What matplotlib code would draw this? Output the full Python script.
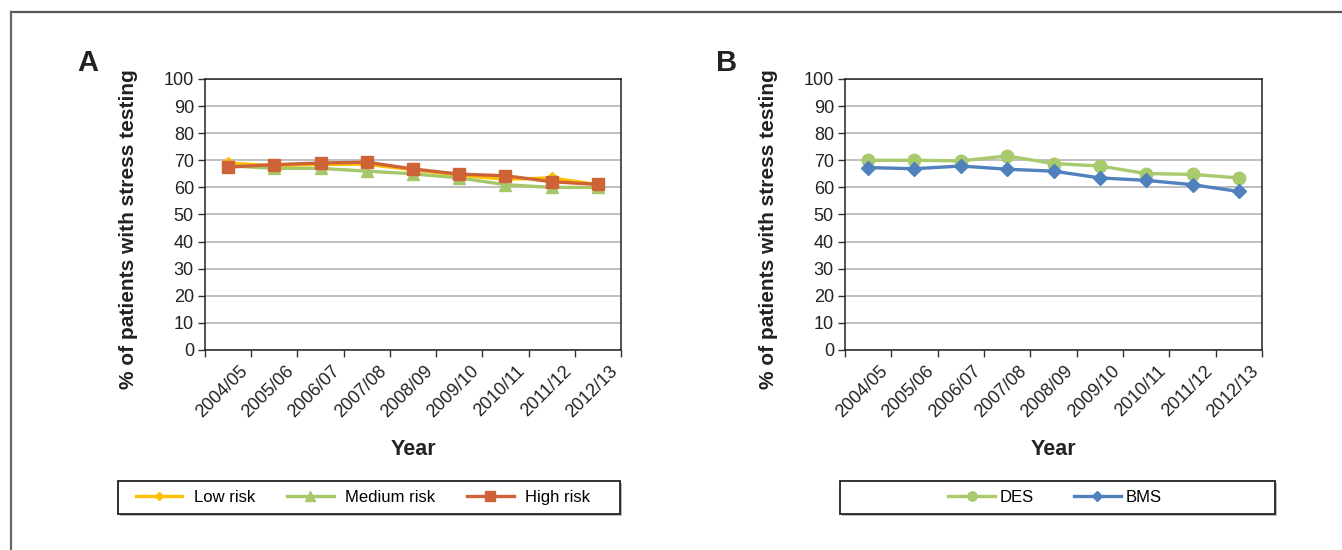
import numpy as np
import matplotlib
matplotlib.use("Agg")
import matplotlib.pyplot as plt
from matplotlib.lines import Line2D
from matplotlib.patches import Rectangle

years = ["2004/05", "2005/06", "2006/07", "2007/08", "2008/09",
         "2009/10", "2010/11", "2011/12", "2012/13"]

# panel A: by risk group
low_risk = [69.0, 68.0, 68.5, 68.5, 66.5, 64.5, 63.0, 63.5, 61.0]
medium_risk = [68.0, 67.0, 67.0, 66.0, 65.0, 63.5, 61.0, 60.0, 60.0]
high_risk = [67.5, 68.4, 69.0, 69.3, 66.8, 64.9, 64.3, 62.1, 61.1]

# panel B: by stent type
des = [70.0, 70.0, 69.8, 71.6, 68.8, 67.9, 65.1, 64.8, 63.5]
bms = [67.3, 66.9, 67.9, 66.7, 66.0, 63.5, 62.6, 61.0, 58.5]

plt.rcParams["font.family"] = ["Liberation Sans", "DejaVu Sans"]

fig = plt.figure(figsize=(13.42, 5.5), dpi=100)
W, H = 1342.0, 550.0

def px_box(x0, y0, x1, y1):
    return [x0 / W, 1 - y1 / H, (x1 - x0) / W, (y1 - y0) / H]

x = np.arange(len(years))


def style_axes(ax):
    ax.set_xlim(-0.5, len(years) - 0.5)
    ax.set_ylim(0, 100)
    ax.set_yticks(np.arange(0, 101, 10))
    ax.tick_params(axis="y", labelsize=13, length=5, width=1, color="#333333",
                   colors="#222222", pad=3)
    # year labels hang off the category boundaries, Excel style
    ax.set_xticks(np.arange(-0.5, len(years)))
    ax.set_xticklabels([""] + years, rotation=45, ha="right", va="bottom",
                       rotation_mode="anchor", fontsize=13, color="#222222")
    ax.tick_params(axis="x", length=5, width=1, color="#333333", pad=13)
    ax.grid(axis="y", color="#b4b4b4", lw=1.2)
    ax.set_axisbelow(True)
    for s in ax.spines.values():
        s.set_color("#222222")
        s.set_linewidth(1.1)
    ax.set_ylabel("% of patients with stress testing", fontsize=15,
                  fontweight="bold", color="#222222")
    ax.yaxis.set_label_coords(-0.161, 0.446)
    ax.set_xlabel("Year", fontsize=15.5, fontweight="bold", color="#222222",
                  labelpad=13)


axA = fig.add_axes(px_box(205, 79, 621, 350))
axA.plot(x, low_risk, color="#FFC000", lw=2.4, marker="D", ms=6, label="Low risk")
axA.plot(x, medium_risk, color="#A6C76A", lw=2.4, marker="^", ms=9, label="Medium risk")
axA.plot(x, high_risk, color="#CF6338", lw=2.4, marker="s", ms=9, label="High risk")
style_axes(axA)

axB = fig.add_axes(px_box(845, 79, 1262, 350))
axB.plot(x, des, color="#A8C96C", lw=2.4, marker="o", ms=9, label="DES")
axB.plot(x, bms, color="#4F81BD", lw=2.4, marker="D", ms=7, label="BMS")
style_axes(axB)

fig.text(88 / W, 1 - 63 / H, "A", fontsize=21, fontweight="bold", ha="center",
         va="center", color="#222222")
fig.text(727 / W, 1 - 63 / H, "B", fontsize=21, fontweight="bold", ha="center",
         va="center", color="#222222")

# legend boxes
for (x0, x1) in [(118, 620), (840, 1275)]:
    b = px_box(x0, 481, x1, 514)
    fig.patches.append(Rectangle((b[0] + 1.5 / W, b[1] - 1.5 / H), b[2], b[3],
                                 transform=fig.transFigure, fc="#bbbbbb",
                                 ec="none", zorder=0))
    fig.patches.append(Rectangle((b[0], b[1]), b[2], b[3],
                                 transform=fig.transFigure, fc="white",
                                 ec="#222222", lw=1.3, zorder=1))

hA, lA = axA.get_legend_handles_labels()
fig.legend(hA, lA, loc="center", bbox_to_anchor=(363 / W, 1 - 497.5 / H),
           ncol=3, frameon=False, fontsize=12, handlelength=2.8,
           columnspacing=1.9, handletextpad=0.7, markerscale=0.75)

hB, lB = axB.get_legend_handles_labels()
fig.legend(hB, lB, loc="center", bbox_to_anchor=(1055 / W, 1 - 497.5 / H),
           ncol=2, frameon=False, fontsize=12, handlelength=2.8,
           columnspacing=2.4, handletextpad=0.3, markerscale=0.75)

# outer frame (top and left edges visible)
fig.lines.append(Line2D([11 / W, 1.0], [1 - 12 / H, 1 - 12 / H],
                        transform=fig.transFigure, color="#555555", lw=1.6))
fig.lines.append(Line2D([11 / W, 11 / W], [0.0, 1 - 12 / H],
                        transform=fig.transFigure, color="#666666", lw=1.6))

fig.savefig("out.png", dpi=100)
